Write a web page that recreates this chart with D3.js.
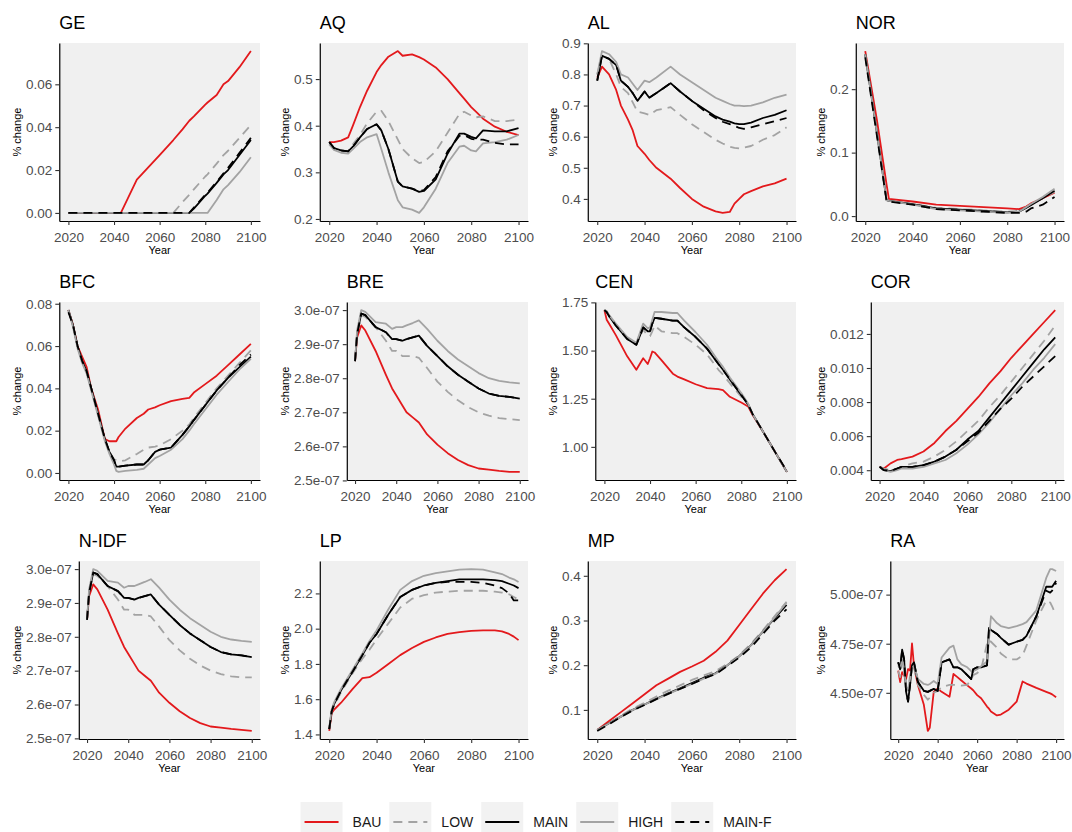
<!DOCTYPE html>
<html>
<head>
<meta charset="utf-8">
<script src="https://cdn.jsdelivr.net/npm/d3@7"></script>
<style>
  body { margin: 0; background: #fff; }
  svg { display: block; font-family: "Liberation Sans", Arial, sans-serif; }
</style>
</head>
<body>
<svg id="chart"></svg>
<script>
// scenario's in volgorde van de legenda
const scenarios = ['BAU', 'LOW', 'MAIN', 'HIGH', 'MAIN-F']
const jaarTicks = [2020, 2040, 2060, 2080, 2100]

// GE
const jarenGE = [2020, 2043, 2050, 2060, 2066, 2070, 2073, 2075, 2080, 2081, 2085, 2088, 2090, 2095, 2100]
const geBAU = [0, 0, 0.0155, 0.027, 0.034, 0.039, 0.043, 0.045, 0.0505, 0.0515, 0.055, 0.060, 0.0615, 0.068, 0.0755]
const geLOW = [0, 0, 0, 0, 0, 0.005, 0.0085, 0.011, 0.017, 0.018, 0.023, 0.027, 0.029, 0.035, 0.041]
const geMAIN = [0, 0, 0, 0, 0, 0, 0, 0.002, 0.008, 0.009, 0.014, 0.018, 0.020, 0.027, 0.034]
const geHIGH = [0, 0, 0, 0, 0, 0, 0, 0, 0, 0, 0.006, 0.011, 0.013, 0.019, 0.026]
const geMAINF = [0, 0, 0, 0, 0, 0, 0, 0.0025, 0.0085, 0.0095, 0.0145, 0.0185, 0.021, 0.028, 0.035]
const ticksGE = [0, 0.02, 0.04, 0.06]

// AQ
const jarenAQ = [2020, 2022, 2025, 2028, 2030, 2033, 2036, 2040, 2042, 2045, 2049, 2051, 2055, 2058, 2060, 2065, 2070, 2075, 2077, 2080, 2082, 2085, 2090, 2095, 2100]
const aqBAU = [.365, .365, .368, .375, .40, .44, .475, .515, .53, .548, .56, .55, .553, .547, .542, .525, .50, .47, .458, .44, .43, .415, .398, .387, .38]
const aqLOW = [.362, .35, .345, .345, .36, .38, .405, .43, .432, .41, .37, .35, .33, .32, .322, .345, .385, .425, .43, .422, .418, .42, .41, .41, .413]
const aqMAIN = [.365, .352, .347, .345, .355, .375, .393, .403, .39, .35, .28, .27, .265, .258, .26, .285, .34, .383, .383, .376, .373, .39, .388, .388, .395]
const aqHIGH = [.36, .348, .342, .34, .35, .365, .375, .382, .35, .30, .24, .225, .22, .213, .225, .265, .32, .355, .357, .347, .345, .362, .365, .37, .38]
const aqMAINF = [.365, .352, .347, .345, .355, .375, .393, .403, .39, .35, .28, .27, .265, .26, .262, .29, .345, .378, .38, .372, .37, .37, .363, .36, .36]
const ticksAQ = [0.2, 0.3, 0.4, 0.5]

// AL
const jarenAL = [2020, 2022, 2025, 2028, 2030, 2033, 2035, 2037, 2040, 2042, 2045, 2051, 2055, 2060, 2065, 2070, 2073, 2076, 2078, 2080, 2082, 2085, 2090, 2095, 2100]
const alBAU = [.79, .825, .80, .75, .70, .655, .62, .57, .545, .525, .50, .465, .435, .40, .375, .36, .355, .358, .385, .40, .415, .425, .44, .45, .465]
const alLOW = [.80, .86, .85, .80, .76, .74, .71, .68, .675, .67, .685, .695, .67, .64, .615, .59, .578, .568, .564, .562, .565, .57, .59, .605, .63]
const alMAIN = [.78, .86, .85, .83, .78, .76, .74, .715, .745, .725, .74, .772, .745, .715, .69, .665, .655, .648, .643, .64, .64, .645, .66, .67, .685]
const alHIGH = [.80, .875, .865, .84, .80, .79, .77, .75, .78, .775, .79, .825, .80, .775, .75, .725, .715, .705, .70, .70, .698, .70, .71, .725, .735]
const alMAINF = [.78, .86, .85, .83, .78, .76, .74, .715, .745, .725, .74, .772, .745, .715, .685, .66, .648, .64, .635, .628, .625, .63, .64, .65, .66]
const ticksAL = [0.4, 0.5, 0.6, 0.7, 0.8, 0.9]

// NOR
const jarenNOR = [2020, 2025, 2029, 2030, 2040, 2050, 2060, 2070, 2080, 2085, 2088, 2090, 2095, 2100]
const norBAU = [.26, .15, .05, .027, .023, .018, .016, .014, .012, .011, .015, .02, .028, .037]
const norLOW = [.255, .13, .025, .024, .019, .013, .011, .009, .007, .008, .014, .018, .028, .038]
const norMAIN = [.255, .13, .025, .024, .019, .012, .01, .008, .006, .007, .013, .017, .028, .04]
const norHIGH = [.255, .13, .025, .024, .018, .011, .009, .007, .005, .007, .014, .019, .03, .043]
const norMAINF = [.25, .125, .024, .023, .018, .011, .009, .007, .005, .005, .007, .012, .018, .03]
const ticksNOR = [0, 0.1, 0.2]

// BFC
const jarenBFC = [2020, 2022, 2024, 2026, 2028, 2030, 2033, 2036, 2038, 2040, 2041, 2042, 2045, 2050, 2053, 2055, 2058, 2060, 2065, 2070, 2073, 2075, 2080, 2085, 2090, 2095, 2100]
const bfcBAU = [.077, .07, .06, .055, .05, .04, .03, .016, .015, .015, .015, .017, .021, .026, .028, .030, .031, .032, .034, .035, .0355, .038, .042, .046, .051, .056, .061]
const bfcLOW = [.077, .07, .06, .053, .048, .04, .028, .016, .01, .0065, .006, .0055, .006, .009, .011, .012, .0125, .013, .016, .020, .023, .026, .033, .040, .046, .052, .058]
const bfcMAIN = [.077, .07, .06, .053, .048, .04, .028, .016, .01, .006, .003, .003, .0035, .004, .004, .006, .010, .011, .012, .018, .022, .025, .032, .039, .045, .050, .055]
const bfcHIGH = [.077, .069, .059, .052, .047, .039, .027, .015, .009, .004, .001, .0005, .001, .0015, .002, .004, .007, .008, .011, .016, .020, .023, .030, .037, .043, .049, .054]
const bfcMAINF = [.076, .07, .06, .053, .048, .04, .028, .016, .01, .006, .003, .003, .0035, .004, .004, .006, .010, .011, .012, .018, .022, .025, .032, .039, .045, .051, .056]
const ticksBFC = [0, 0.02, 0.04, 0.06, 0.08]

// BRE (waarden in 1e-07)
const jarenBRE = [2020, 2021, 2023, 2025, 2030, 2035, 2038, 2040, 2043, 2045, 2048, 2051, 2055, 2060, 2065, 2070, 2075, 2080, 2085, 2090, 2095, 2100]
const breBAU = [2.85, 2.92, 2.955, 2.94, 2.88, 2.81, 2.77, 2.75, 2.72, 2.70, 2.685, 2.67, 2.635, 2.605, 2.58, 2.56, 2.545, 2.535, 2.532, 2.528, 2.525, 2.525]
const breLOW = [2.85, 2.93, 2.985, 2.98, 2.95, 2.91, 2.88, 2.88, 2.865, 2.865, 2.865, 2.86, 2.83, 2.79, 2.76, 2.735, 2.715, 2.70, 2.69, 2.683, 2.68, 2.677]
const breMAIN = [2.85, 2.93, 2.99, 2.985, 2.95, 2.935, 2.915, 2.915, 2.91, 2.915, 2.92, 2.925, 2.895, 2.865, 2.835, 2.81, 2.79, 2.77, 2.755, 2.748, 2.745, 2.74]
const breHIGH = [2.85, 2.94, 3.00, 2.995, 2.965, 2.96, 2.945, 2.95, 2.95, 2.955, 2.962, 2.97, 2.945, 2.91, 2.88, 2.855, 2.835, 2.815, 2.80, 2.792, 2.788, 2.785]
const breMAINF = [2.85, 2.93, 2.99, 2.985, 2.95, 2.935, 2.915, 2.915, 2.91, 2.915, 2.92, 2.925, 2.895, 2.865, 2.835, 2.81, 2.79, 2.77, 2.755, 2.748, 2.745, 2.74]
const ticksBRE = [2.5, 2.6, 2.7, 2.8, 2.9, 3.0]

// CEN
const jarenCEN = [2020, 2021, 2022, 2025, 2030, 2034, 2037, 2039, 2040, 2041, 2042, 2045, 2050, 2052, 2055, 2060, 2065, 2070, 2072, 2075, 2080, 2083, 2085, 2090, 2095, 2100]
const cenBAU = [1.71, 1.66, 1.64, 1.58, 1.47, 1.40, 1.46, 1.43, 1.46, 1.495, 1.49, 1.45, 1.38, 1.365, 1.35, 1.325, 1.305, 1.30, 1.295, 1.26, 1.23, 1.21, 1.165, 1.07, 0.97, 0.87]
const cenLOW = [1.71, 1.70, 1.68, 1.63, 1.56, 1.53, 1.61, 1.575, 1.575, 1.60, 1.63, 1.60, 1.59, 1.59, 1.57, 1.53, 1.48, 1.40, 1.375, 1.33, 1.26, 1.22, 1.17, 1.07, 0.97, 0.87]
const cenMAIN = [1.71, 1.70, 1.68, 1.63, 1.56, 1.53, 1.62, 1.60, 1.60, 1.64, 1.67, 1.665, 1.655, 1.655, 1.62, 1.57, 1.51, 1.43, 1.40, 1.35, 1.27, 1.22, 1.17, 1.07, 0.97, 0.87]
const cenHIGH = [1.71, 1.705, 1.685, 1.64, 1.57, 1.54, 1.64, 1.615, 1.62, 1.66, 1.70, 1.70, 1.695, 1.695, 1.655, 1.595, 1.53, 1.445, 1.415, 1.36, 1.28, 1.225, 1.17, 1.07, 0.97, 0.87]
const cenMAINF = [1.71, 1.70, 1.68, 1.63, 1.56, 1.53, 1.62, 1.60, 1.60, 1.64, 1.67, 1.665, 1.655, 1.655, 1.62, 1.57, 1.51, 1.43, 1.40, 1.35, 1.27, 1.22, 1.17, 1.07, 0.97, 0.875]
const ticksCEN = [1.0, 1.25, 1.5, 1.75]

// COR
const jarenCOR = [2020, 2022, 2025, 2028, 2030, 2035, 2040, 2045, 2050, 2055, 2060, 2065, 2070, 2075, 2080, 2085, 2090, 2095, 2100]
const corBAU = [.0042, .0041, .0044, .0046, .00465, .0048, .0051, .0056, .0063, .0069, .0076, .0083, .0091, .0098, .0106, .0113, .0120, .0127, .0134]
const corLOW = [.0042, .0041, .0040, .0041, .0042, .0044, .0045, .0048, .0052, .0057, .0063, .0069, .0077, .0084, .0092, .0100, .0108, .0116, .0125]
const corMAIN = [.0042, .0040, .00395, .0041, .0042, .0042, .0043, .0045, .0048, .0052, .0058, .0063, .0071, .0079, .0087, .0095, .0103, .0111, .0118]
const corHIGH = [.0042, .0040, .0039, .0040, .0041, .0041, .0042, .0044, .0046, .0050, .0055, .0061, .0068, .0076, .0084, .0091, .0099, .0106, .0114]
const corMAINF = [.0042, .0040, .00395, .0041, .0042, .0042, .0043, .0045, .0048, .0052, .0057, .0062, .0069, .0076, .0082, .0089, .0095, .0101, .0107]
const ticksCOR = [0.004, 0.006, 0.008, 0.010, 0.012]

// N-IDF (waarden in 1e-07)
const jarenNIDF = [2020, 2021, 2023, 2025, 2030, 2035, 2038, 2040, 2043, 2045, 2048, 2051, 2055, 2060, 2065, 2070, 2075, 2080, 2085, 2090, 2095, 2100]
const nidfBAU = [2.85, 2.92, 2.955, 2.94, 2.88, 2.81, 2.77, 2.75, 2.72, 2.70, 2.685, 2.67, 2.635, 2.605, 2.58, 2.56, 2.545, 2.535, 2.532, 2.528, 2.525, 2.522]
const nidfLOW = [2.85, 2.93, 2.985, 2.98, 2.95, 2.91, 2.88, 2.88, 2.865, 2.865, 2.865, 2.86, 2.83, 2.79, 2.76, 2.735, 2.715, 2.70, 2.69, 2.683, 2.68, 2.68]
const nidfMAIN = [2.85, 2.93, 2.99, 2.985, 2.95, 2.935, 2.915, 2.915, 2.91, 2.915, 2.92, 2.925, 2.895, 2.865, 2.835, 2.81, 2.79, 2.77, 2.755, 2.748, 2.745, 2.74]
const nidfHIGH = [2.85, 2.94, 3.00, 2.995, 2.965, 2.96, 2.945, 2.95, 2.95, 2.955, 2.962, 2.97, 2.945, 2.91, 2.88, 2.855, 2.835, 2.815, 2.80, 2.792, 2.788, 2.785]
const nidfMAINF = [2.85, 2.93, 2.99, 2.985, 2.95, 2.935, 2.915, 2.915, 2.91, 2.915, 2.92, 2.925, 2.895, 2.865, 2.835, 2.81, 2.79, 2.77, 2.755, 2.748, 2.745, 2.74]
const ticksNIDF = [2.5, 2.6, 2.7, 2.8, 2.9, 3.0]

// LP
const jarenLP = [2020, 2021, 2022, 2025, 2030, 2034, 2037, 2040, 2045, 2050, 2055, 2060, 2065, 2070, 2075, 2080, 2085, 2090, 2093, 2096, 2098, 2100]
const lpBAU = [1.42, 1.52, 1.54, 1.58, 1.66, 1.72, 1.725, 1.75, 1.80, 1.85, 1.89, 1.925, 1.95, 1.97, 1.98, 1.988, 1.99, 1.99, 1.985, 1.97, 1.955, 1.935]
const lpLOW = [1.43, 1.53, 1.56, 1.64, 1.75, 1.83, 1.88, 1.94, 2.03, 2.12, 2.17, 2.19, 2.205, 2.21, 2.215, 2.215, 2.215, 2.21, 2.205, 2.195, 2.18, 2.165]
const lpMAIN = [1.43, 1.53, 1.57, 1.65, 1.76, 1.85, 1.92, 1.97, 2.08, 2.18, 2.22, 2.245, 2.26, 2.27, 2.28, 2.28, 2.28, 2.275, 2.27, 2.255, 2.245, 2.23]
const lpHIGH = [1.44, 1.54, 1.58, 1.66, 1.77, 1.86, 1.93, 1.99, 2.11, 2.22, 2.27, 2.30, 2.315, 2.325, 2.335, 2.338, 2.335, 2.32, 2.31, 2.29, 2.28, 2.265]
const lpMAINF = [1.43, 1.53, 1.57, 1.65, 1.76, 1.85, 1.92, 1.97, 2.08, 2.18, 2.22, 2.245, 2.26, 2.265, 2.265, 2.265, 2.26, 2.245, 2.23, 2.20, 2.16, 2.16]
const ticksLP = [1.4, 1.6, 1.8, 2.0, 2.2]

// MP
const jarenMP = [2020, 2025, 2030, 2035, 2040, 2045, 2050, 2055, 2060, 2065, 2070, 2075, 2080, 2085, 2090, 2095, 2100]
const mpBAU = [.055, .075, .095, .115, .135, .155, .17, .185, .197, .21, .23, .255, .29, .325, .36, .39, .415]
const mpLOW = [.055, .07, .087, .103, .116, .13, .143, .155, .167, .177, .187, .203, .222, .248, .278, .31, .342]
const mpMAIN = [.055, .07, .085, .10, .112, .125, .137, .148, .16, .172, .182, .20, .22, .245, .275, .305, .335]
const mpHIGH = [.055, .07, .085, .10, .112, .124, .136, .147, .158, .17, .181, .20, .22, .245, .275, .307, .34]
const mpMAINF = [.053, .068, .084, .099, .111, .124, .136, .147, .158, .17, .18, .198, .217, .24, .27, .30, .325]
const ticksMP = [0.1, 0.2, 0.3, 0.4]

// RA (waarden in 1e-07)
const jarenRA = [2020, 2021, 2022, 2023, 2024, 2025, 2026, 2027, 2028, 2030, 2033, 2035, 2036, 2038, 2040, 2042, 2046, 2048, 2050, 2052, 2055, 2057, 2058, 2060, 2062, 2065, 2066, 2067, 2070, 2072, 2076, 2080, 2083, 2085, 2090, 2095, 2097, 2098, 2100]
const raBAU = [4.613, 4.555, 4.605, 4.588, 4.571, 4.621, 4.613, 4.751, 4.638, 4.538, 4.439, 4.306, 4.322, 4.505, 4.522, 4.505, 4.48, 4.596, 4.58, 4.563, 4.538, 4.522, 4.513, 4.488, 4.472, 4.43, 4.419, 4.405, 4.385, 4.389, 4.414, 4.455, 4.558, 4.547, 4.525, 4.505, 4.497, 4.492, 4.477]
const raLOW = [4.61, 4.58, 4.655, 4.605, 4.52, 4.51, 4.59, 4.62, 4.63, 4.54, 4.49, 4.465, 4.475, 4.50, 4.51, 4.53, 4.54, 4.54, 4.54, 4.537, 4.54, 4.57, 4.59, 4.60, 4.62, 4.75, 4.77, 4.76, 4.73, 4.70, 4.67, 4.67, 4.69, 4.74, 4.87, 4.97, 4.96, 4.94, 4.895]
const raMAIN = [4.655, 4.62, 4.72, 4.67, 4.505, 4.455, 4.54, 4.64, 4.655, 4.555, 4.51, 4.505, 4.51, 4.52, 4.51, 4.655, 4.67, 4.63, 4.63, 4.62, 4.59, 4.57, 4.62, 4.63, 4.63, 4.64, 4.83, 4.82, 4.80, 4.78, 4.745, 4.76, 4.77, 4.79, 4.89, 5.04, 5.04, 5.04, 5.07]
const raHIGH = [4.64, 4.62, 4.67, 4.62, 4.53, 4.52, 4.57, 4.62, 4.64, 4.57, 4.545, 4.54, 4.545, 4.56, 4.545, 4.68, 4.73, 4.74, 4.67, 4.645, 4.63, 4.61, 4.61, 4.62, 4.635, 4.66, 4.77, 4.89, 4.855, 4.84, 4.83, 4.84, 4.85, 4.86, 4.92, 5.085, 5.13, 5.13, 5.12]
const raMAINF = [4.655, 4.62, 4.72, 4.67, 4.505, 4.455, 4.54, 4.64, 4.655, 4.555, 4.51, 4.505, 4.51, 4.52, 4.51, 4.655, 4.67, 4.63, 4.63, 4.62, 4.59, 4.57, 4.62, 4.63, 4.63, 4.64, 4.83, 4.82, 4.80, 4.78, 4.745, 4.76, 4.77, 4.79, 4.89, 5.02, 5.01, 5.02, 5.06]
const ticksRA = [4.5, 4.75, 5.0]

const e7 = arr => arr.map(v => v * 1e-7)

const panelen = [
    { naam: 'GE', jaren: jarenGE, reeksen: [geBAU, geLOW, geMAIN, geHIGH, geMAINF], ticks: ticksGE, fmt: d3.format('.2f') },
    { naam: 'AQ', jaren: jarenAQ, reeksen: [aqBAU, aqLOW, aqMAIN, aqHIGH, aqMAINF], ticks: ticksAQ, fmt: d3.format('.1f') },
    { naam: 'AL', jaren: jarenAL, reeksen: [alBAU, alLOW, alMAIN, alHIGH, alMAINF], ticks: ticksAL, fmt: d3.format('.1f') },
    { naam: 'NOR', jaren: jarenNOR, reeksen: [norBAU, norLOW, norMAIN, norHIGH, norMAINF], ticks: ticksNOR, fmt: d3.format('.1f') },
    { naam: 'BFC', jaren: jarenBFC, reeksen: [bfcBAU, bfcLOW, bfcMAIN, bfcHIGH, bfcMAINF], ticks: ticksBFC, fmt: d3.format('.2f') },
    { naam: 'BRE', jaren: jarenBRE, reeksen: [breBAU, breLOW, breMAIN, breHIGH, breMAINF].map(e7), ticks: e7(ticksBRE), fmt: wetenschappelijk(1) },
    { naam: 'CEN', jaren: jarenCEN, reeksen: [cenBAU, cenLOW, cenMAIN, cenHIGH, cenMAINF], ticks: ticksCEN, fmt: d3.format('.2f') },
    { naam: 'COR', jaren: jarenCOR, reeksen: [corBAU, corLOW, corMAIN, corHIGH, corMAINF], ticks: ticksCOR, fmt: d3.format('.3f') },
    { naam: 'N-IDF', jaren: jarenNIDF, reeksen: [nidfBAU, nidfLOW, nidfMAIN, nidfHIGH, nidfMAINF].map(e7), ticks: e7(ticksNIDF), fmt: wetenschappelijk(1) },
    { naam: 'LP', jaren: jarenLP, reeksen: [lpBAU, lpLOW, lpMAIN, lpHIGH, lpMAINF], ticks: ticksLP, fmt: d3.format('.1f') },
    { naam: 'MP', jaren: jarenMP, reeksen: [mpBAU, mpLOW, mpMAIN, mpHIGH, mpMAINF], ticks: ticksMP, fmt: d3.format('.1f') },
    { naam: 'RA', jaren: jarenRA, reeksen: [raBAU, raLOW, raMAIN, raHIGH, raMAINF].map(e7), ticks: e7(ticksRA), fmt: wetenschappelijk(2) }
]

const stijl = {
    'BAU': { kleur: '#e3191c', dash: null },
    'LOW': { kleur: '#a3a3a3', dash: '9,6' },
    'MAIN': { kleur: '#000000', dash: null },
    'HIGH': { kleur: '#a3a3a3', dash: null },
    'MAIN-F': { kleur: '#000000', dash: '9,6' }
}

const width = 1072
const height = 832
const svg = d3.select('#chart')
    .attr('width', width)
    .attr('height', height)

const celBreedte = 268
const paneelHoogte = 178
const tickGrootte = 13.5

panelen.forEach((p, i) => tekenPaneel(svg, p, i % 4, Math.floor(i / 4)))
tekenLegende(svg)

function tekenPaneel(selection, p, kolom, rij) {
    const celLinks = kolom * celBreedte
    const boven = 43 + rij * 259
    const onder = boven + paneelHoogte
    const rechts = celLinks + 260
    const labelBreedte = d3.max(p.ticks, t => tekstBreedte(p.fmt(t), tickGrootte))
    const links = celLinks + 33 + labelBreedte

    const alleWaarden = p.reeksen.flat()
    const [lo, hi] = d3.extent(alleWaarden)
    const marge = (hi - lo) * 0.05

    const x = d3.scaleLinear().domain([2016, 2104]).range([links, rechts])
    const y = d3.scaleLinear().domain([lo - marge, hi + marge]).range([onder, boven])

    const g = selection.append('g').attr('class', 'paneel')

    g.append('rect')
        .attr('x', links).attr('y', boven)
        .attr('width', rechts - links).attr('height', paneelHoogte)
        .attr('fill', '#f0f0f0')

    const lijn = d3.line()
        .x(d => x(d.jaar))
        .y(d => y(d.waarde))

    scenarios.forEach((s, k) => {
        const punten = p.jaren.map((jaar, j) => ({ jaar: jaar, waarde: p.reeksen[k][j] }))
        g.append('path')
            .datum(punten)
            .attr('d', lijn)
            .attr('fill', 'none')
            .attr('stroke', stijl[s].kleur)
            .attr('stroke-width', 1.8)
            .attr('stroke-dasharray', stijl[s].dash)
            .attr('stroke-linejoin', 'round')
    })

    const xAs = g.append('g')
        .attr('transform', `translate(0,${onder})`)
        .call(d3.axisBottom(x).tickValues(jaarTicks).tickFormat(d3.format('d')).tickSize(4).tickSizeOuter(0).tickPadding(7))
    const yAs = g.append('g')
        .attr('transform', `translate(${links},0)`)
        .call(d3.axisLeft(y).tickValues(p.ticks).tickFormat(p.fmt).tickSize(4).tickSizeOuter(0).tickPadding(3))

    ;[xAs, yAs].forEach(as => {
        as.attr('font-family', null)
        as.select('.domain').attr('stroke', '#000').attr('stroke-width', 1.2)
        as.selectAll('.tick line').attr('stroke', '#333').attr('stroke-width', 1.1)
        as.selectAll('.tick text').attr('fill', '#4d4d4d').attr('font-size', tickGrootte)
    })

    g.append('text')
        .attr('x', links).attr('y', boven - 14)
        .attr('font-size', 18)
        .attr('fill', '#000')
        .text(p.naam)

    g.append('text')
        .attr('x', (links + rechts) / 2).attr('y', onder + 33)
        .attr('text-anchor', 'middle')
        .attr('font-size', 11)
        .text('Year')

    g.append('text')
        .attr('transform', `translate(${celLinks + 21},${(boven + onder) / 2}) rotate(-90)`)
        .attr('text-anchor', 'middle')
        .attr('font-size', 11)
        .text('% change')
}

function tekenLegende(selection) {
    const sleutel = 42
    const lijnY = 822
    const breedtes = scenarios.map(s => tekstBreedte(s, 14))
    const totaal = d3.sum(breedtes) + scenarios.length * (sleutel + 10) + (scenarios.length - 1) * 8
    let xPos = width / 2 - totaal / 2

    const g = selection.append('g').attr('class', 'legende')
    scenarios.forEach((s, k) => {
        g.append('rect')
            .attr('x', xPos).attr('y', lijnY - 20)
            .attr('width', sleutel).attr('height', 40)
            .attr('fill', '#f2f2f2')
        g.append('line')
            .attr('x1', xPos + 4).attr('x2', xPos + sleutel - 4)
            .attr('y1', lijnY).attr('y2', lijnY)
            .attr('stroke', stijl[s].kleur)
            .attr('stroke-width', 1.8)
            .attr('stroke-dasharray', stijl[s].dash)
        g.append('text')
            .attr('x', xPos + sleutel + 10).attr('y', lijnY + 5)
            .attr('font-size', 14)
            .attr('fill', '#1a1a1a')
            .text(s)
        xPos += sleutel + 10 + breedtes[k] + 8
    })
}

/* Ondersteunende functies
 * tekstBreedte
 * wetenschappelijk
 */
function tekstBreedte(tekst, grootte) {
    const t = svg.append('text').attr('font-size', grootte).text(tekst)
    const w = t.node().getComputedTextLength()
    t.remove()
    return w
}

function wetenschappelijk(decimalen) {
    return v => v.toExponential(decimalen).replace(/e([+-])(\d)$/, (m, teken, cijfer) => 'e' + teken + '0' + cijfer)
}
</script>
</body>
</html>
